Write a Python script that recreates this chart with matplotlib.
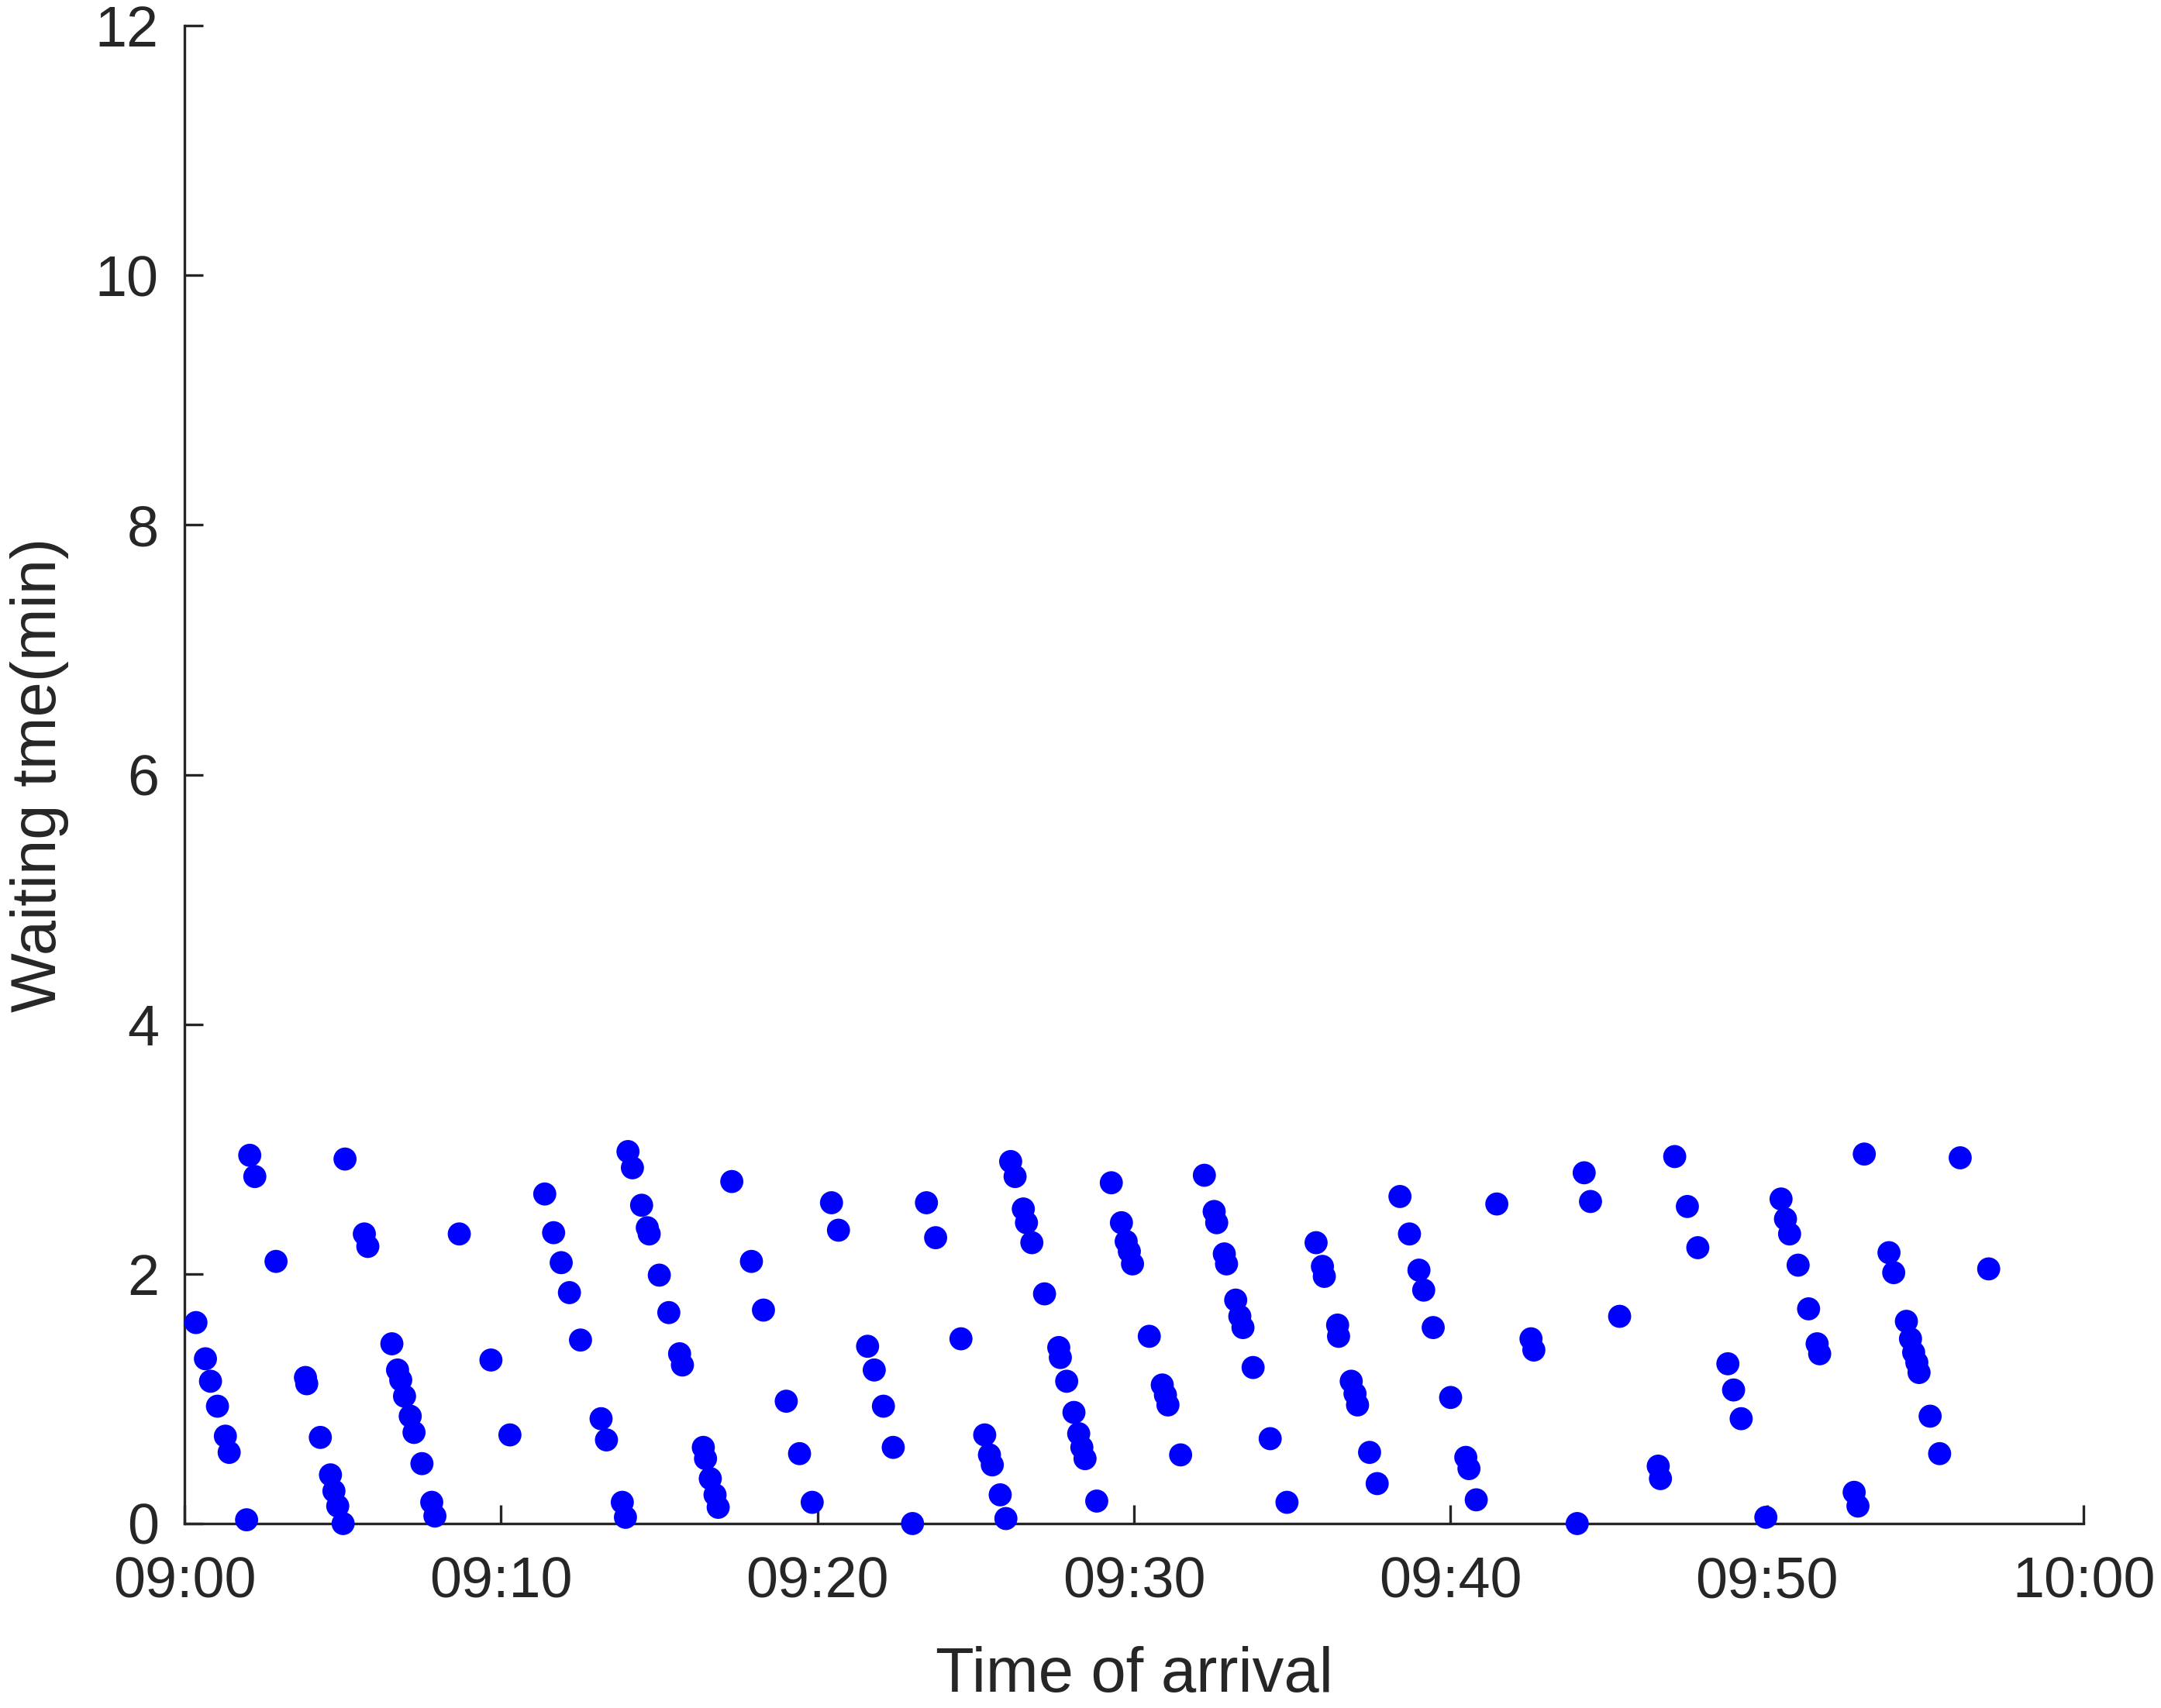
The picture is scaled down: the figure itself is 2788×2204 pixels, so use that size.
import matplotlib
matplotlib.use('Agg')
import matplotlib.pyplot as plt
import matplotlib.dates as mdates
import pandas as pd

# arrival time in minutes after 09:00, and waiting time in minutes
arrival_min = [
    0.36, 0.66, 0.82, 1.04, 1.29, 1.41, 1.96, 2.06, 2.22, 2.89,
    3.82, 3.86, 4.29, 4.61, 4.72, 4.84, 5.01, 5.07, 5.68, 5.79,
    6.55, 6.73, 6.83, 6.95, 7.13, 7.25, 7.50, 7.81, 7.91, 8.68,
    9.68, 10.28, 11.38, 11.66, 11.90, 12.16, 12.51, 13.16, 13.33, 13.83,
    13.93, 14.01, 14.15, 14.44, 14.62, 14.68, 15.00, 15.30,
    15.64, 15.73, 16.39, 16.46, 16.61, 16.76, 16.86, 17.29, 17.91, 18.29,
    19.01, 19.43, 19.83, 20.44, 20.66, 21.58, 21.79, 22.08, 22.39, 23.00,
    23.44, 23.73, 24.53, 25.28, 25.43, 25.52, 25.77, 25.95, 26.10, 26.24,
    26.50, 26.60, 26.77, 27.17, 27.62, 27.67, 27.87, 28.10, 28.25, 28.35,
    28.45, 28.82, 29.28, 29.60, 29.75, 29.85, 29.95, 30.48,
    30.89, 30.99, 31.07, 31.47, 32.22, 32.53, 32.61, 32.85, 32.92, 33.21,
    33.34, 33.44, 33.76, 34.30, 34.83, 35.75, 35.95, 36.01, 36.43, 36.46,
    36.86, 36.98, 37.06, 37.44, 37.68, 38.40, 38.70, 39.00, 39.15, 39.45,
    40.00, 40.48, 40.58, 40.81, 41.46, 42.54, 42.63, 44.00, 44.22, 44.42,
    45.34,
    46.56, 46.63, 47.08, 47.48, 47.81, 48.76, 48.94, 49.18, 49.96, 50.44,
    50.58, 50.71, 50.98, 51.31, 51.58, 51.66, 52.75, 52.87, 53.07, 53.85,
    54.00, 54.40, 54.53, 54.63, 54.73, 54.80, 55.15, 55.45, 56.10, 57.00,
]
waiting_min = [
    1.61, 1.32, 1.14, 0.94, 0.70, 0.57, 0.03, 2.95, 2.78, 2.10,
    1.17, 1.12, 0.69, 0.39, 0.26, 0.14, 0.00, 2.92, 2.32, 2.22,
    1.44, 1.23, 1.15, 1.02, 0.86, 0.73, 0.48, 0.17, 0.06, 2.32,
    1.31, 0.71, 2.64, 2.33, 2.09, 1.85, 1.47, 0.84, 0.67, 0.17,
    0.05, 2.98, 2.85, 2.55, 2.37, 2.32, 1.99, 1.69,
    1.36, 1.27, 0.61, 0.52, 0.36, 0.23, 0.13, 2.74, 2.10, 1.71,
    0.98, 0.56, 0.17, 2.57, 2.35, 1.42, 1.23, 0.94, 0.61, 0.00,
    2.57, 2.29, 1.48, 0.71, 0.55, 0.47, 0.23, 0.04, 2.90, 2.78,
    2.52, 2.41, 2.25, 1.84, 1.41, 1.33, 1.14, 0.89, 0.72, 0.61,
    0.52, 0.18, 2.73, 2.41, 2.26, 2.18, 2.08, 1.50,
    1.11, 1.03, 0.95, 0.55, 2.79, 2.50, 2.41, 2.16, 2.08, 1.79,
    1.66, 1.57, 1.25, 0.68, 0.17, 2.25, 2.06, 1.98, 1.59, 1.50,
    1.14, 1.04, 0.95, 0.57, 0.32, 2.62, 2.32, 2.03, 1.87, 1.57,
    1.01, 0.53, 0.44, 0.19, 2.56, 1.48, 1.39, 0.00, 2.81, 2.58,
    1.66,
    0.46, 0.36, 2.94, 2.54, 2.21, 1.28, 1.07, 0.84, 0.05, 2.60,
    2.44, 2.32, 2.07, 1.72, 1.44, 1.36, 0.25, 0.14, 2.96, 2.17,
    2.01, 1.62, 1.48, 1.37, 1.29, 1.21, 0.86, 0.56, 2.93, 2.04,
]
start_time = '2020-01-01 09:00'
end_time = '2020-01-01 10:00'
y_ticks = [0, 2, 4, 6, 8, 10, 12]

arrival = pd.Timestamp(start_time) + pd.to_timedelta(arrival_min, unit='m')

plt.rcParams['font.family'] = ['Liberation Sans', 'DejaVu Sans']
axis_color = '#262626'

fig = plt.figure(figsize=(13.94, 11.02), dpi=200)
ax = fig.add_axes([0.0854, 0.108, 0.8788, 0.877])

ax.scatter(arrival, waiting_min, s=115, color='#0000ff', edgecolors='none', clip_on=False, zorder=3)

ax.set_xlim(pd.Timestamp(start_time), pd.Timestamp(end_time))
ax.set_ylim(0, 12)
ax.set_yticks(y_ticks)
ax.xaxis.set_major_locator(mdates.MinuteLocator(byminute=range(0, 60, 10)))
ax.xaxis.set_major_formatter(mdates.DateFormatter('%H:%M'))

ax.spines['top'].set_visible(False)
ax.spines['right'].set_visible(False)
for side in ['left', 'bottom']:
    ax.spines[side].set_color(axis_color)
    ax.spines[side].set_linewidth(1.2)

ax.tick_params(direction='in', length=8.6, width=1.2, color=axis_color,
               labelcolor=axis_color, labelsize=26.5)
ax.tick_params(axis='x', pad=15)
ax.tick_params(axis='y', pad=12)

ax.set_xlabel('Time of arrival', fontsize=29.3, color=axis_color, labelpad=17)
ax.set_ylabel('Waiting tme(min)', fontsize=29.3, color=axis_color, labelpad=12)

fig.savefig('out.png', dpi=200)
